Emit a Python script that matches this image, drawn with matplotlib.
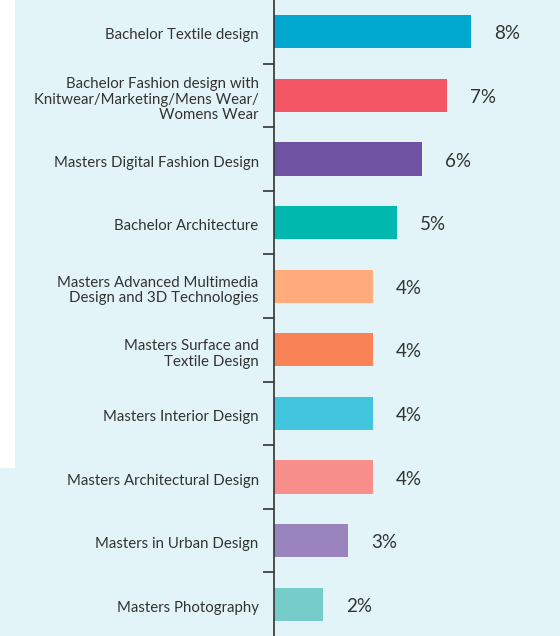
import numpy as np
import matplotlib.pyplot as plt
from matplotlib.patches import Rectangle
from matplotlib.transforms import ScaledTranslation

# ---- Data
programmes = [
    "Bachelor Textile design",
    "Bachelor Fashion design with\nKnitwear/Marketing/Mens Wear/\nWomens Wear",
    "Masters Digital Fashion Design",
    "Bachelor Architecture",
    "Masters Advanced Multimedia\nDesign and 3D Technologies",
    "Masters Surface and\nTextile Design",
    "Masters Interior Design",
    "Masters Architectural Design",
    "Masters in Urban Design",
    "Masters Photography",
]
shares = [8, 7, 6, 5, 4, 4, 4, 4, 3, 2]
bar_colors = [
    "#00a8d0", "#f45665", "#7052a3", "#00b8ad", "#ffab7c",
    "#fa8257", "#42c6dd", "#f98f8b", "#9a84bd", "#76ccc9",
]

bg = "#e3f4f9"
txt = "#333333"
plt.rcParams["font.family"] = ["Lato", "DejaVu Sans"]

fig = plt.figure(figsize=(5.6, 6.36), dpi=100, facecolor=bg)
# white block in the top-left corner
fig.patches.append(Rectangle((0, 1 - 468 / 636), 15 / 560, 468 / 636,
                             transform=fig.transFigure, facecolor="white",
                             edgecolor="none", zorder=0))

ax = fig.add_axes([274 / 560, 0, 1 - 274 / 560, 1])
ax.set_facecolor("none")

y = np.arange(len(programmes))
ax.barh(y, shares, height=0.52, color=bar_colors, zorder=2)

for yi, v in zip(y, shares):
    ax.annotate(f"{v}%", (v, yi), xytext=(16.5, -1.5), textcoords="offset points",
                ha="left", va="center", fontsize=13.5, color=txt)

ax.set_xlim(0, 11.6)
ax.set_ylim(len(programmes) - 0.5, -0.5)

ax.set_yticks(y)
ax.set_yticklabels(programmes, fontsize=10.8, color=txt, linespacing=1.12)
ax.tick_params(axis="y", which="major", length=0, pad=11)
ax.set_yticks(np.arange(0.5, len(programmes) - 0.5, 1), minor=True)
ax.tick_params(axis="y", which="minor", length=8, width=1.2, color="#333333")
ax.set_xticks([])

# nudge the category labels down a touch
shift = ScaledTranslation(0, -1.5 / 72, fig.dpi_scale_trans)
for lab in ax.get_yticklabels():
    lab.set_transform(lab.get_transform() + shift)

for side in ["top", "right", "bottom"]:
    ax.spines[side].set_visible(False)
ax.spines["left"].set_color("#333333")
ax.spines["left"].set_linewidth(1.2)

plt.savefig("out.png", dpi=100, facecolor=bg)
plt.close()
